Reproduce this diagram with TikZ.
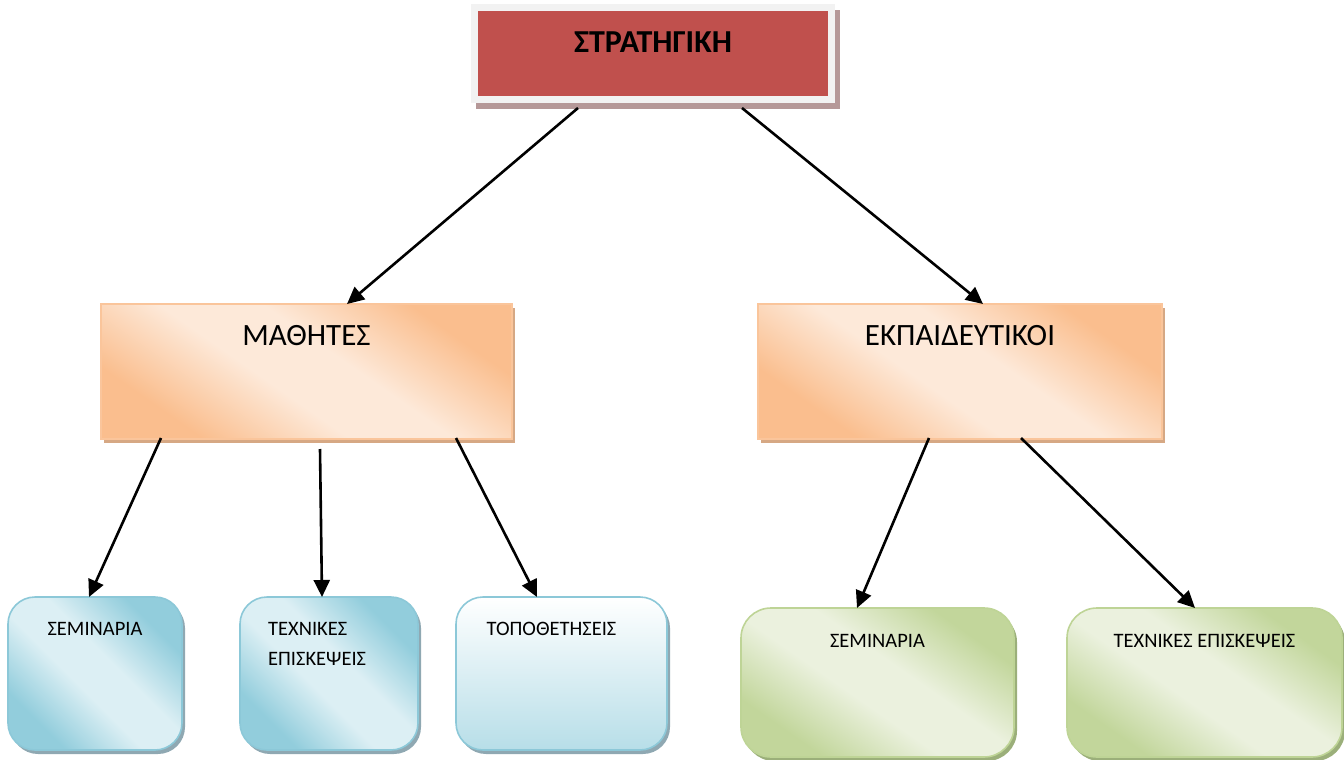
\documentclass[tikz,border=0pt]{standalone}
\usepackage{fontspec}
\setmainfont{Carlito}
\usetikzlibrary{arrows.meta}
\definecolor{stratred}{RGB}{192,80,77}
\definecolor{framegrey}{RGB}{242,242,242}
\definecolor{stratshadow}{RGB}{181,152,152}
\definecolor{orDark}{RGB}{250,190,142}
\definecolor{orLight}{RGB}{253,233,217}
\definecolor{orBorder}{RGB}{250,197,155}
\definecolor{orShadow}{RGB}{214,168,132}
\definecolor{blDark}{RGB}{146,205,220}
\definecolor{blLight}{RGB}{220,239,244}
\definecolor{blBorder}{RGB}{140,200,216}
\definecolor{blShadow}{RGB}{143,168,178}
\definecolor{blBottom}{RGB}{183,222,232}
\definecolor{grDark}{RGB}{194,214,155}
\definecolor{grLight}{RGB}{235,241,222}
\definecolor{grBorder}{RGB}{190,212,150}
\definecolor{grShadow}{RGB}{155,175,122}
\pgfdeclareverticalshading{orshade}{100bp}{color(0bp)=(orDark); color(27bp)=(orDark); color(44bp)=(orLight); color(56bp)=(orLight); color(73bp)=(orDark); color(100bp)=(orDark)}
\pgfdeclareverticalshading{blshade}{100bp}{color(0bp)=(blDark); color(27bp)=(blDark); color(44bp)=(blLight); color(56bp)=(blLight); color(73bp)=(blDark); color(100bp)=(blDark)}
\pgfdeclareverticalshading{grshade}{100bp}{color(0bp)=(grDark); color(27bp)=(grDark); color(44bp)=(grLight); color(56bp)=(grLight); color(73bp)=(grDark); color(100bp)=(grDark)}
\tikzset{
  basebox/.style={outer sep=0pt, inner sep=0pt},
  stratbox/.style={basebox, fill=stratred, draw=framegrey, line width=7pt,
    preaction={draw=stratshadow, fill=stratshadow, transform canvas={xshift=5pt,yshift=-6pt}}},
  orbox/.style={basebox, draw=orBorder, line width=1.3pt,
    shading=orshade, shading angle=-35,
    preaction={fill=orShadow, transform canvas={xshift=3pt,yshift=-4pt}}},
  blbox/.style={basebox, draw=blBorder, line width=1.6pt, rounded corners=27pt,
    shading=blshade, shading angle=-45,
    preaction={fill=blShadow, transform canvas={xshift=3pt,yshift=-4pt}}},
  blwhitebox/.style={basebox, draw=blBorder, line width=1.6pt, rounded corners=27pt,
    top color=white, bottom color=blBottom,
    preaction={fill=blShadow, transform canvas={xshift=3pt,yshift=-4pt}}},
  grbox/.style={basebox, draw=grBorder, line width=1.6pt, rounded corners=30pt,
    shading=grshade, shading angle=-35,
    preaction={fill=grShadow, transform canvas={xshift=3pt,yshift=-4pt}}},
  bigtxt/.style={font=\fontsize{31pt}{37pt}\selectfont, inner sep=0pt, anchor=base},
  smalltxt/.style={font=\fontsize{20.5pt}{30pt}\selectfont, inner sep=0pt, anchor=base},
  arr/.style={line width=2.6pt, -{Triangle[length=17pt,width=16pt]}}
}
\begin{document}
\begin{tikzpicture}[x=1pt,y=-1pt]
\useasboundingbox (0,0) rectangle (1344,760);

\node[stratbox, minimum width=357pt, minimum height=92pt,
  label={[font=\bfseries\fontsize{32pt}{38pt}\selectfont, inner sep=0pt, anchor=base, yshift=-45.5pt]north:ΣΤΡΑΤΗΓΙΚΗ}]
  (strat) at (653,53.5) {};

\node[orbox, minimum width=411pt, minimum height=135pt,
  label={[bigtxt, yshift=-41pt]north:ΜΑΘΗΤΕΣ}] (mat) at (306.5,371.5) {};
\node[orbox, minimum width=404pt, minimum height=135pt,
  label={[bigtxt, yshift=-41pt]north:ΕΚΠΑΙΔΕΥΤΙΚΟΙ}] (ekp) at (960,371.5) {};

\node[blbox, minimum width=174pt, minimum height=153pt,
  label={[smalltxt, yshift=-38pt]north:ΣΕΜΙΝΑΡΙΑ}] (b1) at (95,673.5) {};
\node[blbox, minimum width=178pt, minimum height=153pt,
  label={[smalltxt, anchor=base west, align=left, xshift=28pt, yshift=-68pt]north west:ΤΕΧΝΙΚΕΣ\\ΕΠΙΣΚΕΨΕΙΣ}] (b2) at (329,673.5) {};
\node[blwhitebox, minimum width=211pt, minimum height=153pt,
  label={[smalltxt, xshift=-10pt, yshift=-38pt]north:ΤΟΠΟΘΕΤΗΣΕΙΣ}] (b3) at (561.5,673.5) {};

\node[grbox, minimum width=273pt, minimum height=149pt,
  label={[smalltxt, yshift=-39pt]north:ΣΕΜΙΝΑΡΙΑ}] (g1) at (877.5,682.5) {};
\node[grbox, minimum width=275pt, minimum height=149pt,
  label={[smalltxt, yshift=-39pt]north:ΤΕΧΝΙΚΕΣ ΕΠΙΣΚΕΨΕΙΣ}] (g2) at (1204.5,682.5) {};

\draw[arr] ([xshift=-75pt,yshift=-8.5pt]strat.south) -- ([xshift=40.5pt]mat.north);
\draw[arr] ([xshift=89pt,yshift=-8.5pt]strat.south) -- ([xshift=23pt]ekp.north);

\draw[arr] ([xshift=-145.5pt,yshift=1pt]mat.south) -- ([xshift=-6pt]b1.north);
\draw[arr] ([xshift=13.5pt,yshift=-10pt]mat.south) -- ([xshift=-7pt]b2.north);
\draw[arr] ([xshift=149.5pt,yshift=1pt]mat.south) -- ([xshift=-24.5pt]b3.north);

\draw[arr] ([xshift=-31pt,yshift=1pt]ekp.south) -- ([xshift=-20.5pt]g1.north);
\draw[arr] ([xshift=61pt,yshift=1pt]ekp.south) -- ([xshift=-9.5pt]g2.north);
\end{tikzpicture}
\end{document}
